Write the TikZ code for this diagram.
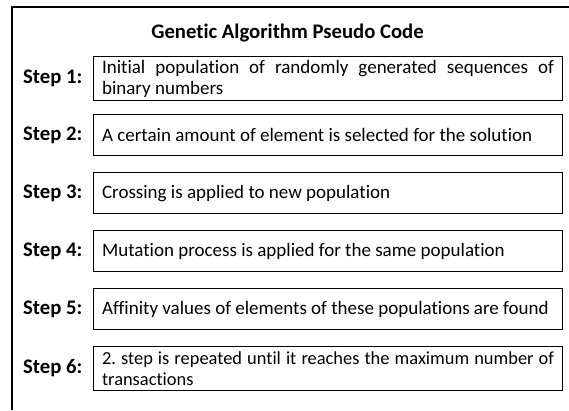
\documentclass[tikz,border=0pt]{standalone}
\usepackage{fontspec}
\setmainfont{Carlito}[Ligatures=NoCommon]
\frenchspacing
\newcommand\boxtextfont{\fontsize{19}{21}\selectfont\hyphenpenalty10000\relax}
\newcommand\lastboxfont{\fontsize{18.4}{21}\selectfont\hyphenpenalty10000\relax}
\newcommand\labelfont{\fontsize{20.7}{24}\selectfont\bfseries}
\begin{document}
\begin{tikzpicture}[x=1pt,y=-1pt,
  stepbox/.style={draw, line width=1.1pt, anchor=north west, inner xsep=8.5pt, inner ysep=2pt,
    text width=452pt, align=justify, font=\boxtextfont},
  steplabel/.style={anchor=east, inner sep=0pt, font=\labelfont},
  frame/.style={line width=1.3pt}]
\useasboundingbox (0,0) rectangle (569,410);
\draw[frame] (12,410) -- (12,7) -- (569,7);
\node[anchor=base, inner sep=0pt, font=\labelfont] (title) at (287.5,38) {Genetic Algorithm Pseudo Code};

\node[stepbox, minimum height=44pt] (b1) at (93,56) {Initial population of randomly generated sequences of\linebreak binary numbers};
\node[stepbox, minimum height=41pt] (b2) at (93,114) {A certain amount of element is selected for the solution};
\node[stepbox, minimum height=41pt] (b3) at (93,172) {Crossing is applied to new population};
\node[stepbox, minimum height=41pt] (b4) at (93,230) {Mutation process is applied for the same population};
\node[stepbox, minimum height=41pt] (b5) at (93,288) {Affinity values of elements of these populations are found};
\node[stepbox, minimum height=44pt, font=\lastboxfont] (b6) at (93,346) {2. step is repeated until it reaches the maximum number of\linebreak transactions};

\foreach \i in {1,...,6} {
  \node[steplabel] (l\i) at ([xshift=-10.5pt]b\i.west) {Step \i:};
}
\end{tikzpicture}
\end{document}
